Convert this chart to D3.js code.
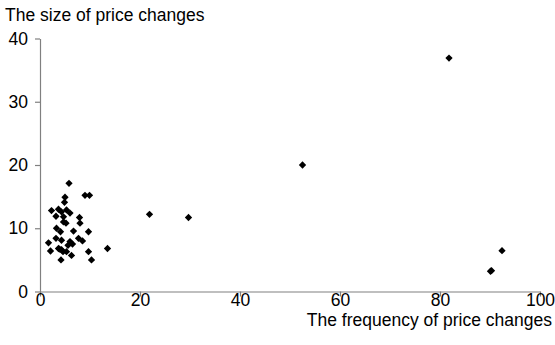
<!DOCTYPE html>
<html>
<head>
<meta charset="utf-8">
<script src="https://cdn.jsdelivr.net/npm/d3@7"></script>
<style>
  html, body { margin: 0; padding: 0; background: #fff; }
  svg { display: block; }
  text { font-family: "Liberation Sans", Arial, sans-serif; fill: #000; }
</style>
</head>
<body>
<svg id="chart" width="555" height="345"></svg>
<script>
// Frequency of price changes (x) and size of price changes (y), one entry per item
const frequency = [5.8, 9.0, 9.9, 5.0, 4.9, 2.3, 3.7, 4.3, 5.3, 6.0, 3.2, 4.7, 7.9, 8.0, 4.7, 5.2,
  3.3, 4.1, 6.7, 9.7, 3.2, 4.3, 7.7, 8.5, 1.7, 6.0, 6.5, 3.7, 2.1, 4.3, 5.3, 6.3, 9.7, 13.5,
  4.2, 10.3, 4.6, 3.9, 5.6, 21.9, 29.7, 52.5, 81.8, 92.4, 90.1, 90.3];
const size = [17.1, 15.2, 15.2, 14.9, 14.1, 12.8, 13.0, 12.6, 12.9, 12.4, 11.9, 11.8, 11.7, 10.8, 11.0, 10.8,
  10.0, 9.45, 9.55, 9.45, 8.4, 8.1, 8.4, 8.0, 7.7, 7.9, 7.5, 6.8, 6.4, 6.6, 6.3, 5.7, 6.3, 6.8,
  5.0, 5.0, 6.3, 6.7, 7.3, 12.2, 11.7, 20.0, 36.9, 6.45, 3.2, 3.3];
const xTicks = [0, 20, 40, 60, 80, 100];
const yTicks = [0, 10, 20, 30, 40];
const xTitle = "The frequency of price changes";
const yTitle = "The size of price changes";

const svg = d3.select("#chart");
const fontSize = 17.5;

const x = d3.scaleLinear().domain([0, 100]).range([40, 540]);
const y = d3.scaleLinear().domain([0, 40]).range([291.5, 38.5]);

const axisColor = "#808080";

const xAxis = svg.append("g")
  .attr("transform", `translate(0,${y(0)})`)
  .call(d3.axisBottom(x).tickValues(xTicks).tickSize(5).tickSizeOuter(0));
const yAxis = svg.append("g")
  .attr("transform", `translate(${x(0)},0)`)
  .call(d3.axisLeft(y).tickValues(yTicks).tickSize(5).tickPadding(7).tickSizeOuter(0));

[xAxis, yAxis].forEach(g => {
  g.select(".domain").attr("stroke", axisColor).attr("stroke-width", 1.2);
  g.selectAll(".tick line").attr("stroke", axisColor).attr("stroke-width", 1.2);
  g.selectAll(".tick text")
    .attr("fill", "#000")
    .style("font-family", '"Liberation Sans", Arial, sans-serif')
    .style("font-size", fontSize + "px");
});
// x tick labels sit on a baseline just under the ticks
xAxis.selectAll(".tick text").attr("dy", null).attr("y", 14.5);

// Axis titles
svg.append("text")
  .attr("x", 5).attr("y", 21)
  .style("font-size", fontSize + "px")
  .text(yTitle);
svg.append("text")
  .attr("x", 552).attr("y", 326)
  .attr("text-anchor", "end")
  .style("font-size", fontSize + "px")
  .text(xTitle);

// Diamond markers
const diamond = d3.symbol().type(d3.symbolDiamond2).size(34);
svg.append("g")
  .selectAll("path")
  .data(d3.range(frequency.length))
  .join("path")
  .attr("d", diamond)
  .attr("transform", i => `translate(${x(frequency[i])},${y(size[i])})`)
  .attr("fill", "#000");
</script>
</body>
</html>
